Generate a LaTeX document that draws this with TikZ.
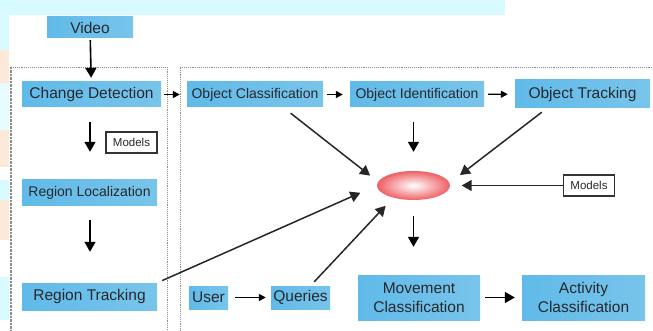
\documentclass[tikz,border=0pt]{standalone}
\usepackage{fontspec}
\setmainfont{Liberation Sans}
\usetikzlibrary{shapes.geometric}
\usetikzlibrary{arrows.meta}

\definecolor{boxblue}{RGB}{96,186,232}
\definecolor{bandcyan}{RGB}{214,250,255}
\definecolor{peach}{RGB}{253,233,216}
\definecolor{hubred}{RGB}{238,96,100}
\definecolor{txt}{RGB}{40,40,45}

\begin{document}
\begin{tikzpicture}[
    x=1pt, y=-1pt,
    stage/.style={rectangle, left color=boxblue, middle color=boxblue!20, right color=boxblue!85,
                  text=txt, inner sep=1pt, font=\fontsize{14}{16}\selectfont},
    big/.style={font=\fontsize{15.5}{19}\selectfont},
    model box/.style={rectangle, draw=black!80, line width=1.3pt, fill=white, text=txt,
                      minimum width=51pt, minimum height=21pt, inner sep=0pt,
                      font=\fontsize{11.5}{13}\selectfont},
    hub/.style={ellipse, inner color=white, outer color=hubred, minimum width=73pt,
                minimum height=29pt, inner sep=0pt},
    arrow/.style={line width=1.6pt, black, -{Triangle[length=10pt,width=11pt]}},
    small arrow/.style={line width=1.4pt, black, -{Triangle[length=7pt,width=7pt]}},
    link/.style={line width=1.5pt, black!85, -{Triangle[length=10pt,width=11pt]}},
    frame/.style={densely dotted, black!45, line width=0.9pt},
    ]
  \useasboundingbox (0,0) rectangle (653,331);

  % background
  \fill[bandcyan] (0,0) rectangle (505,15);
  \fill[bandcyan] (0,15) rectangle (9,50);
  \fill[peach] (0,50) rectangle (9,83);
  \fill[bandcyan!60] (0,83) rectangle (9,130);
  \fill[peach] (0,130) rectangle (9,167);
  \fill[bandcyan] (0,180) rectangle (9,200);
  \fill[peach] (0,200) rectangle (9,240);
  \fill[bandcyan] (0,277) rectangle (9,320);

  \draw[frame, line width=2.5pt] (11,67) -- (11,331);
  \draw[frame] (11,67) -- (167,67) -- (167,331);
  \draw[frame] (180,331) -- (180,67) -- (653,67);

  \node[stage, big, minimum width=86pt, minimum height=21pt] (video) at (90,27.5) {Video};
  \node[stage, big, minimum width=139pt, minimum height=25pt] (change) at (91.5,94.5) {Change Detection};
  \node[stage, minimum width=136pt, minimum height=25pt] (objclass) at (255,94.5) {Object Classification};
  \node[stage, minimum width=134pt, minimum height=25pt] (objident) at (417,94.5) {Object Identification};
  \node[stage, big, minimum width=135pt, minimum height=28pt] (objtrack) at (582.5,94) {Object Tracking};
  \node[model box] (modelsA) at (131.5,142.5) {Models};
  \node[stage, minimum width=135pt, minimum height=26pt] (regloc) at (89.5,193) {Region Localization};
  \node[stage, big, minimum width=135pt, minimum height=27pt] (regtrack) at (89.5,296.5) {Region Tracking};
  \node[stage, big, minimum width=39pt, minimum height=23pt] (user) at (208.5,297.5) {User};
  \node[stage, big, minimum width=59pt, minimum height=23pt] (queries) at (300.5,297.5) {Queries};
  \node[hub] (fusion) at (413.5,185.5) {};
  \node[model box] (modelsB) at (589,185.5) {Models};
  \node[stage, big, align=center, minimum width=122pt, minimum height=45pt] (movement) at (419,297.5) {Movement\\Classification};
  \node[stage, big, align=center, minimum width=123pt, minimum height=45pt] (activity) at (583.5,297.5) {Activity\\Classification};

  \draw[arrow, shorten <=2pt, shorten >=4pt] (video) -- (change);
  \draw[small arrow, shorten <=3pt, shorten >=7pt] (change) -- (objclass);
  \draw[small arrow, shorten <=4pt, shorten >=7pt] (objclass) -- (objident);
  \draw[small arrow, shorten <=4pt, shorten >=7pt] (objident) -- (objtrack);
  \draw[arrow, shorten <=15pt, shorten >=28pt] (change.south -| video) -- (regloc.north -| video);
  \draw[arrow, shorten <=14pt, shorten >=31pt] (regloc.south -| video) -- (regtrack.north -| video);
  \draw[arrow, shorten <=15pt, shorten >=19pt] (objident.south -| fusion) -- (fusion.north);
  \draw[arrow, shorten <=16pt, shorten >=28pt] (fusion.south) -- (movement.north -| fusion);
  \draw[small arrow, line width=1.5pt, shorten <=7pt, shorten >=5pt] (user) -- (queries);
  \draw[arrow, shorten <=5pt, shorten >=7pt] (movement) -- (activity);

  % links into the hub
  \draw[link, shorten <=9.7pt, shorten >=10pt] ([xshift=28pt]objclass.south) -- (fusion.174);
  \draw[link, shorten <=6.6pt, shorten >=13pt] ([xshift=-35.5pt]objtrack.south) -- (fusion.4);
  \draw[link, shorten >=11.5pt] (modelsB.west) -- (fusion.east);
  \draw[link, shorten <=5.5pt, shorten >=18pt] (regtrack.north east) -- (fusion.west);
  \draw[link, shorten <=5.5pt, shorten >=11pt] ([xshift=10pt]queries.north) -- (fusion.211);
\end{tikzpicture}
\end{document}
